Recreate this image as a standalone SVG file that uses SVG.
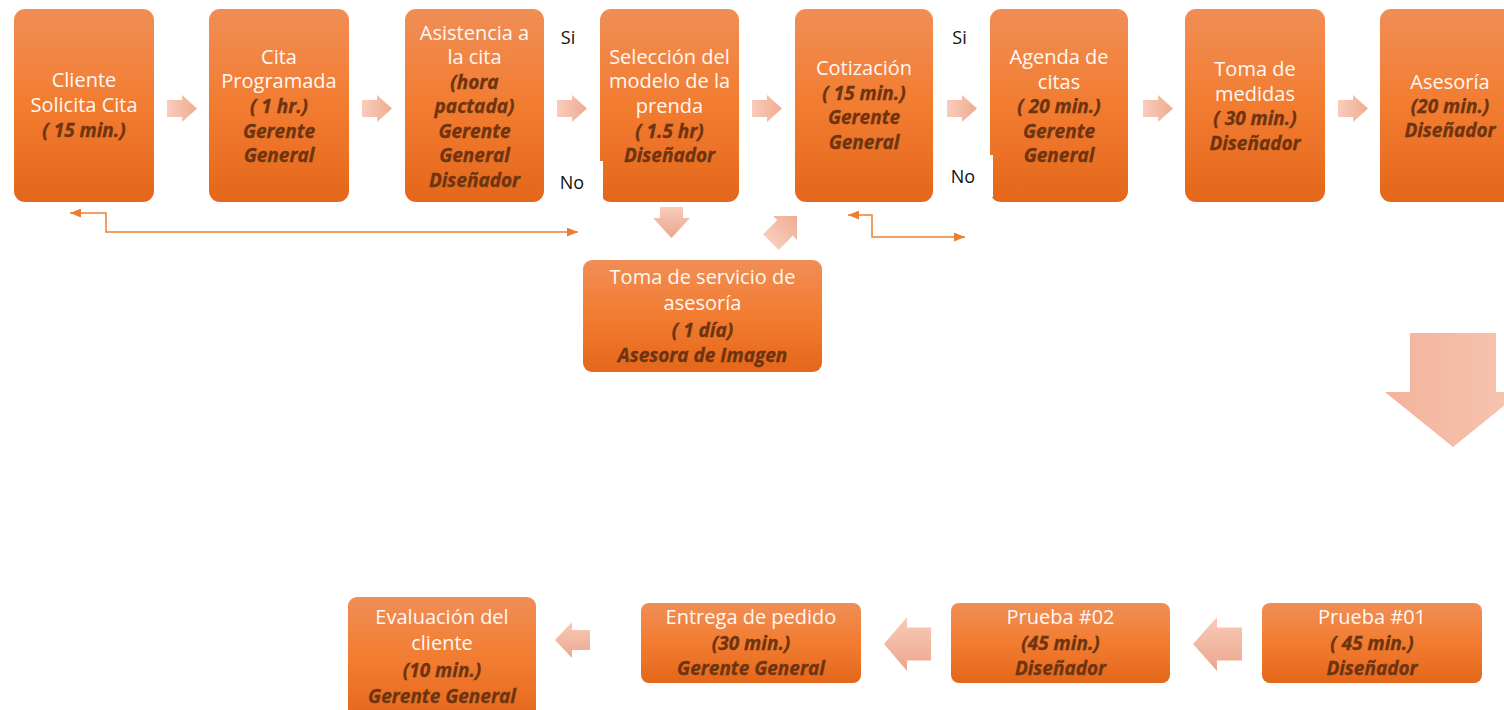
<svg xmlns="http://www.w3.org/2000/svg" xmlns:xlink="http://www.w3.org/1999/xlink" width="1504" height="710" viewBox="0 0 1504 710">
  <defs>
    <linearGradient id="boxg" x1="0" y1="0" x2="0" y2="1">
      <stop offset="0" stop-color="#f08e56"/>
      <stop offset="0.5" stop-color="#f27c30"/>
      <stop offset="1" stop-color="#e4671b"/>
    </linearGradient>
    <linearGradient id="arrh" x1="0" y1="0" x2="1" y2="0">
      <stop offset="0" stop-color="#f8cdbb"/>
      <stop offset="1" stop-color="#f0ab90"/>
    </linearGradient>
    <linearGradient id="arrv" x1="0" y1="0" x2="0" y2="1">
      <stop offset="0" stop-color="#f8cbb8"/>
      <stop offset="1" stop-color="#eca68d"/>
    </linearGradient>
    <linearGradient id="arrd" x1="0" y1="0" x2="1" y2="0">
      <stop offset="0" stop-color="#f3b39b"/>
      <stop offset="1" stop-color="#f7c4b1"/>
    </linearGradient>
    <path id="ra" d="M0,-8.5 H15 V-13.5 L30,0 L15,13.5 V8.5 H0 Z"/>
    <marker id="ah" viewBox="0 0 10 8" refX="10" refY="4" markerWidth="11" markerHeight="9" markerUnits="userSpaceOnUse" orient="auto-start-reverse">
      <path d="M0,0 L10,4 L0,8 Z" fill="#ed7d31"/>
    </marker>
    <style>
      .box { fill: url(#boxg); }
      .t { font-family: "Open Sans", "Noto Sans", sans-serif; font-size: 20px; fill: #fff8f3; text-anchor: middle; }
      .b { font-family: "Open Sans", "Noto Sans", sans-serif; font-size: 19px; font-weight: bold; font-style: italic; fill: #6e3410; stroke: #6e3410; stroke-width: 0.3; text-anchor: middle; }
      .lbl { font-family: "Open Sans", "Noto Sans", sans-serif; font-size: 18px; fill: #111; text-anchor: middle; }
      .ln { fill: none; stroke: #ed7d31; stroke-width: 1.5; marker-start: url(#ah); marker-end: url(#ah); }
      .ar { fill: url(#arrh); }
      .av { fill: url(#arrv); }
    </style>
  </defs>
  <rect width="1504" height="710" fill="#ffffff"/>

  <g id="connectors">
    <use href="#ra" x="167" y="108.5" class="ar"/>
    <use href="#ra" x="362" y="108.5" class="ar"/>
    <use href="#ra" x="557" y="108.5" class="ar"/>
    <use href="#ra" x="752" y="108.5" class="ar"/>
    <use href="#ra" x="947" y="108.5" class="ar"/>
    <use href="#ra" x="1143" y="108.5" class="ar"/>
    <use href="#ra" x="1338" y="108.5" class="ar"/>
    <path class="av" d="M660,207 H683 V218 H690 L671.5,238 L653,218 H660 Z"/>
    <path class="ar" transform="translate(785,228) rotate(-45)" d="M-20,-11 H0 V-17 L17,0 L0,17 V11 H-20 Z"/>
    <path fill="url(#arrd)" d="M1410,333 H1496 V392 H1521 L1453,447 L1385,392 H1410 Z"/>
    <path class="av" d="M1242,627.5 V660.5 H1217 V671 L1193,644 L1217,617 V627.5 Z"/>
    <path class="av" d="M931,627.5 V660.5 H907 V671 L884,644 L907,617 V627.5 Z"/>
    <path class="av" d="M590,630 V650 H572 V658 L555,640 L572,622 V630 Z"/>
    <path class="ln" d="M70,213 H106 V232 H578"/>
    <path class="ln" d="M848,215 H872 V237 H965"/>
  </g>

  <g id="n1">
    <rect class="box" x="14" y="9" width="140" height="193" rx="11"/>
    <text class="t" x="84" y="87">Cliente</text>
    <text class="t" x="84" y="112">Solicita Cita</text>
    <text class="b" x="84" y="137">( 15 min.)</text>
  </g>
  <g id="n2">
    <rect class="box" x="209" y="9" width="140" height="193" rx="11"/>
    <text class="t" x="279" y="64">Cita</text>
    <text class="t" x="279" y="88">Programada</text>
    <text class="b" x="279" y="113">( 1 hr.)</text>
    <text class="b" x="279" y="138">Gerente</text>
    <text class="b" x="279" y="162">General</text>
  </g>
  <g id="n3">
    <rect class="box" x="405" y="9" width="139" height="193" rx="11"/>
    <text class="t" x="474.5" y="40">Asistencia a</text>
    <text class="t" x="474.5" y="64">la cita</text>
    <text class="b" x="474.5" y="89">(hora</text>
    <text class="b" x="474.5" y="113">pactada)</text>
    <text class="b" x="474.5" y="138">Gerente</text>
    <text class="b" x="474.5" y="162">General</text>
    <text class="b" x="474.5" y="187">Diseñador</text>
  </g>
  <g id="n4">
    <rect class="box" x="600" y="9" width="139" height="193" rx="11"/>
    <text class="t" x="669.5" y="64">Selección del</text>
    <text class="t" x="669.5" y="88">modelo de la</text>
    <text class="t" x="669.5" y="113">prenda</text>
    <text class="b" x="669.5" y="138">( 1.5 hr)</text>
    <text class="b" x="669.5" y="162">Diseñador</text>
  </g>
  <g id="n5">
    <rect class="box" x="795" y="9" width="138" height="193" rx="11"/>
    <text class="t" x="864" y="75">Cotización</text>
    <text class="b" x="864" y="100">( 15 min.)</text>
    <text class="b" x="864" y="124">Gerente</text>
    <text class="b" x="864" y="149">General</text>
  </g>
  <g id="n6">
    <rect class="box" x="990" y="9" width="138" height="193" rx="11"/>
    <text class="t" x="1059" y="64">Agenda de</text>
    <text class="t" x="1059" y="88.5">citas</text>
    <text class="b" x="1059" y="113">( 20 min.)</text>
    <text class="b" x="1059" y="138">Gerente</text>
    <text class="b" x="1059" y="162">General</text>
  </g>
  <g id="n7">
    <rect class="box" x="1185" y="9" width="140" height="193" rx="11"/>
    <text class="t" x="1255" y="76">Toma de</text>
    <text class="t" x="1255" y="100.5">medidas</text>
    <text class="b" x="1255" y="125">( 30 min.)</text>
    <text class="b" x="1255" y="150">Diseñador</text>
  </g>
  <g id="n8">
    <rect class="box" x="1380" y="9" width="140" height="193" rx="11"/>
    <text class="t" x="1450" y="89">Asesoría</text>
    <text class="b" x="1450" y="113">(20 min.)</text>
    <text class="b" x="1450" y="137">Diseñador</text>
  </g>
  <g id="labels">
    <rect x="597" y="161" width="6" height="42" fill="#ffffff"/>
    <rect x="986" y="155" width="7" height="42" fill="#ffffff"/>
    <text class="lbl" x="568" y="43.5">Si</text>
    <text class="lbl" x="572" y="188.5">No</text>
    <text class="lbl" x="959.5" y="43.5">Si</text>
    <text class="lbl" x="963" y="182.5">No</text>
  </g>
  <g id="n9">
    <rect class="box" x="583" y="260" width="239" height="112" rx="9"/>
    <text class="t" x="702.5" y="284">Toma de servicio de</text>
    <text class="t" x="702.5" y="310">asesoría</text>
    <text class="b" x="702.5" y="337">( 1 día)</text>
    <text class="b" x="702.5" y="362">Asesora de Imagen</text>
  </g>
  <g id="n10">
    <rect class="box" x="1262" y="603" width="220" height="80" rx="8"/>
    <text class="t" x="1372" y="624">Prueba #01</text>
    <text class="b" x="1372" y="650">( 45 min.)</text>
    <text class="b" x="1372" y="675">Diseñador</text>
  </g>
  <g id="n11">
    <rect class="box" x="951" y="603" width="219" height="80" rx="8"/>
    <text class="t" x="1060.5" y="624">Prueba #02</text>
    <text class="b" x="1060.5" y="650">(45 min.)</text>
    <text class="b" x="1060.5" y="675">Diseñador</text>
  </g>
  <g id="n12">
    <rect class="box" x="641" y="603" width="220" height="80" rx="8"/>
    <text class="t" x="751" y="624">Entrega de pedido</text>
    <text class="b" x="751" y="650">(30 min.)</text>
    <text class="b" x="751" y="675">Gerente General</text>
  </g>
  <g id="n13">
    <rect class="box" x="348" y="597" width="188" height="125" rx="9"/>
    <text class="t" x="442" y="624">Evaluación del</text>
    <text class="t" x="442" y="650">cliente</text>
    <text class="b" x="442" y="677">(10 min.)</text>
    <text class="b" x="442" y="703">Gerente General</text>
  </g>
</svg>
